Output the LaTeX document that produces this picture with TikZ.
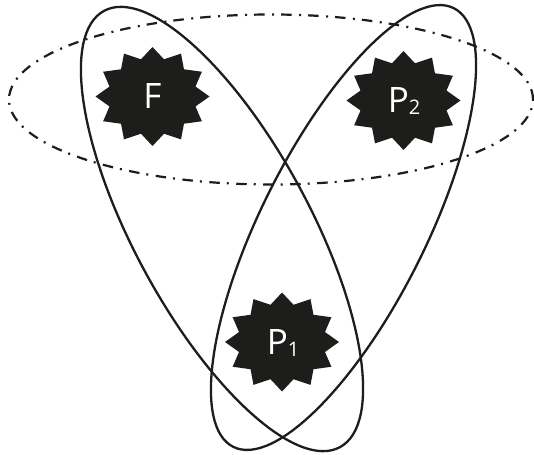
\documentclass[tikz,border=0pt]{standalone}
\usepackage{fontspec}
\newfontfamily\lblfont{Open Sans}
\definecolor{ink}{HTML}{1D1D1B}
\tikzset{
  loop/.style={draw=ink, line width=2.3pt},
  setloop/.style={draw=ink, line width=2.2pt, dash pattern=on 10.5pt off 7pt on 2pt off 7.5pt},
  starfill/.style={fill=ink},
  lbl/.style={text=white, font=\lblfont\fontsize{35}{35}\selectfont, inner sep=0pt}
}
\newcommand{\subfs}[1]{\raisebox{-1.3pt}{\fontsize{20}{20}\selectfont #1}}
\newcommand{\burst}[2]{%
  \fill[starfill] plot[samples at={0,...,23}, variable=\k]
    ({#1 + ifthenelse(mod(\k,2)==0,57,44.5)*cos(90+15*\k)},
     {#2 - ifthenelse(mod(\k,2)==0,49.5,38.5)*sin(90+15*\k)}) -- cycle;}
\begin{document}
\begin{tikzpicture}[x=1pt,y=-1pt]
\fill[white] (0,0) rectangle (534,454);
\useasboundingbox (0,0) rectangle (534,454);
% sets
\draw[setloop] (271,99.5) ellipse [x radius=262pt, y radius=85pt];
\draw[loop] (222,229) ellipse [x radius=248pt, y radius=88pt, rotate=118.4];
\draw[loop] (343.5,227.5) ellipse [x radius=245.5pt, y radius=82.3pt, rotate=63.3];
% elements
\burst{152.5}{96.5}
\burst{403.5}{100.5}
\burst{282}{342}
\node[lbl] (F) at (152.5,96.5) {F};
\node[lbl] (P2) at (404,101) {P\subfs{2}};
\node[lbl] (P1) at (283,343) {P\subfs{1}};
\end{tikzpicture}
\end{document}
